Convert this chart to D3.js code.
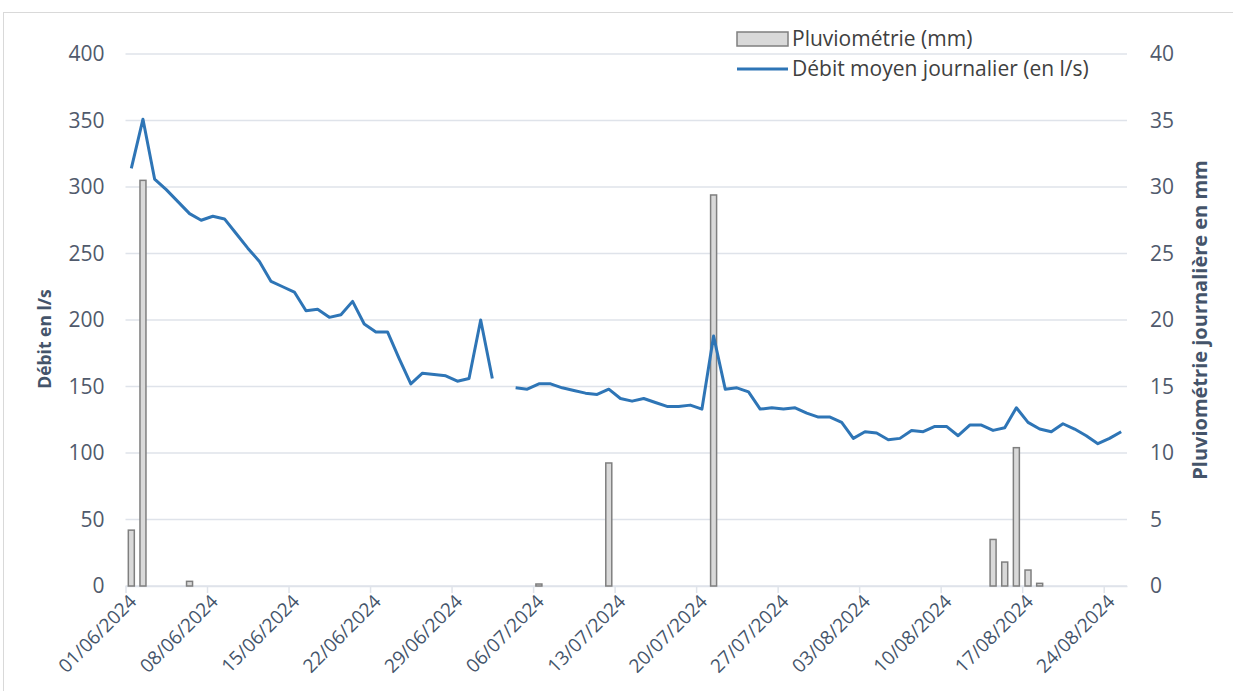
<!DOCTYPE html>
<html>
<head>
<meta charset="utf-8">
<script src="https://cdn.jsdelivr.net/npm/d3@7"></script>
<style>
  body { margin: 0; background: #fff; }
  svg text { font-family: "Open Sans", "Noto Sans", sans-serif; }
</style>
</head>
<body>
<div id="chart"></div>
<script>
// daily values from 01/06/2024 to 25/08/2024 (86 days), null = no measure
const START = Date.UTC(2024, 5, 1)
const flow = [
  314, 351, 306, 298, 289, 280, 275, 278, 276, 265,
  254, 244, 229, 225, 221, 207, 208, 202, 204, 214,
  197, 191, 191, 171, 152, 160, 159, 158, 154, 156,
  200, 156, null, 149, 148, 152, 152, 149, 147, 145,
  144, 148, 141, 139, 141, 138, 135, 135, 136, 133,
  188, 148, 149, 146, 133, 134, 133, 134, 130, 127,
  127, 123, 111, 116, 115, 110, 111, 117, 116, 120,
  120, 113, 121, 121, 117, 119, 134, 123, 118, 116,
  122, 118, 113, 107, 111, 116
]
const rainDates = ["2024-06-01", "2024-06-02", "2024-06-06", "2024-07-06", "2024-07-12",
  "2024-07-21", "2024-08-14", "2024-08-15", "2024-08-16", "2024-08-17", "2024-08-18"]
const rainMm = [4.2, 30.5, 0.35, 0.15, 9.25, 29.4, 3.5, 1.8, 10.4, 1.2, 0.2]
const tickDates = ["2024-06-01", "2024-06-08", "2024-06-15", "2024-06-22", "2024-06-29",
  "2024-07-06", "2024-07-13", "2024-07-20", "2024-07-27", "2024-08-03", "2024-08-10",
  "2024-08-17", "2024-08-24"]
const leftTicks = [0, 50, 100, 150, 200, 250, 300, 350, 400]
const rightTicks = [0, 5, 10, 15, 20, 25, 30, 35, 40]

const width = 1233, height = 691
const plot = { left: 125.5, right: 1127, top: 54, bottom: 586 }
const DAY = 86400000
const parse = d3.utcParse("%Y-%m-%d")

const svg = d3.select("#chart").append("svg")
  .attr("width", width)
  .attr("height", height)

svg.append("rect")
  .attr("x", 3.5).attr("y", 12.5)
  .attr("width", width).attr("height", height)
  .attr("fill", "none").attr("stroke", "#d9d9d9")

const x = d3.scaleUtc()
  .domain([new Date(START), new Date(START + flow.length * DAY)])
  .range([plot.left, plot.right])
const yL = d3.scaleLinear().domain([0, 400]).range([plot.bottom, plot.top])
const yR = d3.scaleLinear().domain([0, 40]).range([plot.bottom, plot.top])
const mid = d => new Date(d.getTime() + DAY / 2)

// gridlines
svg.append("g")
  .selectAll("line")
  .data(leftTicks)
  .join("line")
  .attr("x1", plot.left).attr("x2", plot.right)
  .attr("y1", d => yL(d)).attr("y2", d => yL(d))
  .attr("stroke", "#dfe3ea").attr("stroke-width", 1.5)

// x axis
const xAxis = svg.append("g")
  .attr("transform", `translate(0,${plot.bottom})`)
  .call(d3.axisBottom(x)
    .tickValues(tickDates.map(parse))
    .tickFormat(d3.utcFormat("%d/%m/%Y"))
    .tickSize(7)
    .tickSizeOuter(0))
xAxis.select(".domain").attr("stroke", "#dfe3ea").attr("stroke-width", 1.5)
xAxis.selectAll(".tick line").attr("stroke", "#dfe3ea").attr("stroke-width", 1.5)
xAxis.selectAll(".tick text")
  .attr("font-size", "19px")
  .attr("fill", "#44546a")
  .attr("text-anchor", "end")
  .attr("dy", "0.35em")
  .attr("transform", "translate(7,12) rotate(-45)")
  .attr("x", 0).attr("y", 0)

// left axis
const left = svg.append("g")
  .attr("transform", `translate(${plot.left - 14},0)`)
  .call(d3.axisLeft(yL).tickValues(leftTicks).tickSize(0))
left.select(".domain").remove()
left.selectAll("text").attr("font-size", "21px").attr("fill", "#505a6c").attr("x", -7)

// right axis
const right = svg.append("g")
  .attr("transform", `translate(${plot.right + 18},0)`)
  .call(d3.axisRight(yR).tickValues(rightTicks).tickSize(0))
right.select(".domain").remove()
right.selectAll("text").attr("font-size", "21px").attr("fill", "#505a6c").attr("x", 5)

// axis titles
svg.append("text")
  .attr("transform", `translate(51,${(plot.top + plot.bottom) / 2 + 19}) rotate(-90)`)
  .attr("text-anchor", "middle")
  .attr("font-size", "17.5px").attr("font-weight", "bold")
  .attr("fill", "#44546a")
  .text("Débit en l/s")

svg.append("text")
  .attr("transform", `translate(1207,${(plot.top + plot.bottom) / 2}) rotate(-90)`)
  .attr("text-anchor", "middle")
  .attr("font-size", "20px").attr("font-weight", "bold")
  .attr("fill", "#44546a")
  .text("Pluviométrie journalière en mm")

// rain bars
const barW = 6
svg.append("g")
  .selectAll("rect")
  .data(rainDates.map((d, i) => ({ date: parse(d), mm: rainMm[i] })))
  .join("rect")
  .attr("x", d => x(mid(d.date)) - barW / 2)
  .attr("y", d => yR(d.mm))
  .attr("width", barW)
  .attr("height", d => plot.bottom - yR(d.mm))
  .attr("fill", "#d9d9d9")
  .attr("stroke", "#7f7f7f")
  .attr("stroke-width", 1.5)

// flow line
const line = d3.line()
  .defined(d => d.v != null)
  .x(d => x(mid(d.date)))
  .y(d => yL(d.v))

svg.append("path")
  .datum(flow.map((v, i) => ({ date: new Date(START + i * DAY), v })))
  .attr("d", line)
  .attr("fill", "none")
  .attr("stroke", "#2e75b6")
  .attr("stroke-width", 3)
  .attr("stroke-linejoin", "round")

// legend
const lg = svg.append("g").attr("transform", "translate(737,0)")
lg.append("rect")
  .attr("x", 0).attr("y", 32).attr("width", 51).attr("height", 14)
  .attr("fill", "#d9d9d9").attr("stroke", "#7f7f7f").attr("stroke-width", 1.5)
lg.append("text")
  .attr("x", 55).attr("y", 39).attr("dy", "0.35em")
  .attr("font-size", "21px").attr("fill", "#404040")
  .text("Pluviométrie (mm)")
lg.append("line")
  .attr("x1", 0).attr("x2", 51).attr("y1", 69).attr("y2", 69)
  .attr("stroke", "#2e75b6").attr("stroke-width", 3)
lg.append("text")
  .attr("x", 55).attr("y", 69).attr("dy", "0.35em")
  .attr("font-size", "21px").attr("fill", "#404040")
  .text("Débit moyen journalier (en l/s)")
</script>
</body>
</html>
